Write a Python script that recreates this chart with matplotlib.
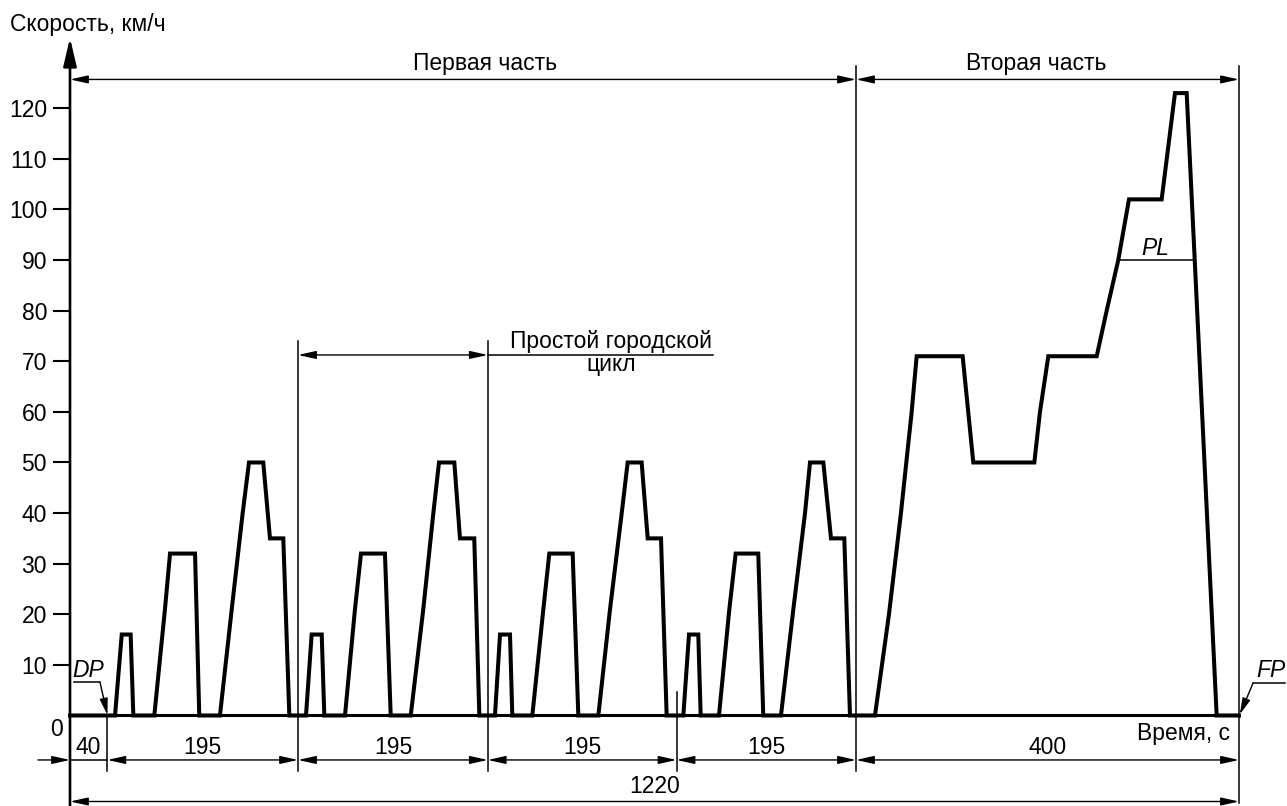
import matplotlib
matplotlib.use("Agg")
import matplotlib.pyplot as plt
from matplotlib.patches import ArrowStyle

plt.rcParams["font.family"] = ["Liberation Sans", "DejaVu Sans"]

# Urban cycle (4 times) - speed points, km/h
urban_v = [0, 16, 16, 0, 0, 21, 32, 32, 0, 0, 21, 40, 50, 50, 35, 35, 0]
# times for each of the 4 urban cycles, s
cycle1_t = [47.0, 54.0, 63.3, 66.1, 88.0, 99.1, 104.4, 130.5, 134.9, 156.5, 168.8, 180.2, 186.8, 201.7, 208.7, 222.6, 228.9]
cycle2_t = [246.3, 252.2, 262.7, 265.4, 287.0, 297.4, 303.7, 328.7, 334.7, 355.6, 368.7, 379.2, 385.1, 401.1, 407.0, 421.9, 427.2]
cycle3_t = [443.5, 448.8, 459.2, 461.6, 482.5, 494.0, 500.2, 524.6, 530.5, 551.4, 563.6, 575.8, 582.0, 596.6, 602.9, 616.8, 622.7]
cycle4_t = [640.1, 646.0, 655.7, 658.2, 677.3, 688.1, 694.7, 718.3, 723.5, 742.0, 754.9, 767.1, 772.3, 786.2, 794.2, 808.1, 814.0]

# Extra-urban part
eudc_t = [840.1, 854.7, 867.2, 878.4, 883.6, 931.6, 942.7, 1006.4, 1012.3, 1021.0, 1071.5,
          1081.9, 1094.0, 1105.2, 1139.3, 1153.2, 1165.4, 1196.7]
eudc_v = [0, 20, 40, 60, 71, 71, 50, 50, 60, 71, 71, 80, 90, 102, 102, 123, 123, 0]

t_end = 1220
pl_speed = 90
pl_t = [1094.0, 1171.7]

# dimension chain under the time axis
dim_edges = [0, 39, 238, 436, 633, 820.3, 1220]
dim_labels = ["40", "195", "195", "195", "195", "400"]
total_label = "1220"
y_ticks = list(range(10, 130, 10))

# build full profile
prof_t = [0]
prof_v = [0]
for ct in [cycle1_t, cycle2_t, cycle3_t, cycle4_t]:
    prof_t += ct
    prof_v += urban_v
prof_t += eudc_t + [t_end]
prof_v += eudc_v + [0]

fig = plt.figure(figsize=(12.87, 8.06), dpi=100)
ax = fig.add_axes([0, 0, 1, 1])
ax.set_xlim(-73.05, 1270.1)
ax.set_ylim(-17.89, 141.40)

for s in ["top", "right", "bottom"]:
    ax.spines[s].set_visible(False)
ax.spines["left"].set_position(("data", 0))
ax.spines["left"].set_visible(False)
ax.set_xticks([])
ax.set_yticks(y_ticks)
ax.tick_params(axis="y", direction="out", length=12.2, width=1.5, pad=4.3, labelsize=16.5)

FS = 16.5
dim_style = ArrowStyle("<|-|>", head_length=0.9, head_width=0.2)
one_style = ArrowStyle("-|>", head_length=0.9, head_width=0.2)


def arrow(x0, y0, x1, y1, style, ms=12, lw=1.0):
    ax.annotate("", xy=(x1, y1), xytext=(x0, y0),
                arrowprops=dict(arrowstyle=style, mutation_scale=ms, shrinkA=0, shrinkB=0,
                                lw=lw, color="black"),
                annotation_clip=False)


# y axis with arrow
arrow(0, -17.89, 0, 133.9, ArrowStyle("-|>", head_length=0.85, head_width=0.2), ms=20, lw=1.9)
ax.text(-62.6, 136.5, "Скорость, км/ч", fontsize=FS, ha="left", va="center")
ax.text(-14.6, -2.87, "0", fontsize=FS, ha="center", va="center")
ax.text(1210.6, -3.56, "Время, с", fontsize=FS, ha="right", va="center")

# speed profile + baseline
ax.plot([0, t_end], [0, 0], color="black", lw=2.2, solid_capstyle="butt")
ax.plot(prof_t, prof_v, color="black", lw=2.9, solid_joinstyle="miter")

# vertical boundary lines
thin = dict(color="black", lw=1.1)
ax.plot([dim_edges[1]] * 2, [0, -10.97], **thin)
ax.plot([dim_edges[2]] * 2, [74.0, -10.97], **thin)
ax.plot([dim_edges[3]] * 2, [74.0, -10.97], **thin)
ax.plot([dim_edges[4]] * 2, [4.6, -10.97], **thin)
ax.plot([dim_edges[5]] * 2, [128.4, -10.97], **thin)
ax.plot([dim_edges[6]] * 2, [128.4, -17.35], **thin)

# top: first / second part
y_top = 125.7
arrow(dim_edges[0], y_top, dim_edges[5], y_top, dim_style)
arrow(dim_edges[5], y_top, dim_edges[6], y_top, dim_style)
ax.text(433, 128.8, "Первая часть", fontsize=FS, ha="center", va="center")
ax.text(1008.9, 128.8, "Вторая часть", fontsize=FS, ha="center", va="center")

# simple urban cycle dimension
y_uc = 71.25
arrow(dim_edges[2], y_uc, dim_edges[3], y_uc, dim_style)
ax.plot([dim_edges[3], 671.4], [y_uc, y_uc], **thin)
ax.text(565, 73.9, "Простой городской", fontsize=FS, ha="center", va="center")
ax.text(565, 69.3, "цикл", fontsize=FS, ha="center", va="center")

# dimension chain below
y_dim = -8.79
arrow(-33.4, y_dim, 0, y_dim, one_style)
ax.plot([dim_edges[0], dim_edges[1]], [y_dim, y_dim], **thin)
for i in range(1, len(dim_edges) - 1):
    arrow(dim_edges[i], y_dim, dim_edges[i + 1], y_dim, dim_style)
for i, lab in enumerate(dim_labels):
    ax.text((dim_edges[i] + dim_edges[i + 1]) / 2, -6.42, lab, fontsize=FS, ha="center", va="center")

y_tot = -17.0
arrow(0, y_tot, t_end, y_tot, dim_style)
ax.text(t_end / 2, -14.07, total_label, fontsize=FS, ha="center", va="center")

# PL
ax.plot(pl_t, [pl_speed, pl_speed], **thin)
ax.text(1132.3, 92.3, "PL", fontsize=FS, style="italic", ha="center", va="center")

# DP / FP markers
lead = ArrowStyle("-|>", head_length=0.9, head_width=0.22)
ax.text(19.3, 8.9, "DP", fontsize=FS, style="italic", ha="center", va="center")
ax.plot([4.2, 31.3], [6.56, 6.56], **thin)
arrow(31.3, 6.56, 39.1, 0.1, lead, ms=11)
ax.text(1253.5, 8.9, "FP", fontsize=FS, style="italic", ha="center", va="center")
ax.plot([1234.6, 1268], [6.36, 6.36], **thin)
arrow(1234.6, 6.36, 1220.8, 0.2, lead, ms=11)

fig.savefig("out.png", dpi=100)
